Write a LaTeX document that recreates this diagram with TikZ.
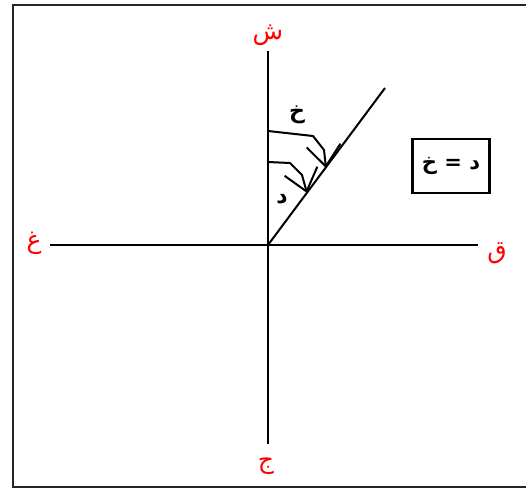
\documentclass[tikz,border=0pt]{standalone}
\usepackage{fontspec}
\newfontfamily\arabicfont[Script=Arabic]{DejaVu Sans}
\TeXXeTstate=1
\usetikzlibrary{arrows.meta}
\begin{document}
\begin{tikzpicture}[x=1pt, y=-1pt, line width=2pt,
  axislbl/.style={text=red, font=\arabicfont\fontsize{25}{28}\selectfont, inner sep=0pt},
  anglbl/.style={font=\arabicfont\bfseries\fontsize{22}{25}\selectfont, inner sep=0pt},
  barb/.style={-{Straight Barb[length=21pt, width=34pt]}}]
\useasboundingbox (0,0) rectangle (526,489);
% frame, open on the right side
\draw[line width=2.2pt, black!85] (526,5) -- (13,5) -- (13,487) -- (526,487);
% axes
\coordinate (o) at (268,245);
\coordinate (n) at (268,51);
\coordinate (s) at (268,444);
\coordinate (w) at (50,245);
\coordinate (e) at (478,245);
\coordinate (r) at (385,88);
\draw (n) -- (s);
\draw (w) -- (e);
\draw (o) -- (r);
\node[axislbl] (lbln) at (268,35)  {\beginR ش\endR};
\node[axislbl] (lbls) at (266,466) {\beginR ج\endR};
\node[axislbl] (lblw) at (34,243)  {\beginR غ\endR};
\node[axislbl] (lble) at (497,253) {\beginR ق\endR};
% angles
\coordinate (k1) at (268,131);
\coordinate (k2) at (268,162);
\coordinate (t1) at (326,168);
\coordinate (t2) at (307,193);
\draw[barb] (k1) -- (313,136) -- (324,150) -- (t1);
\draw[barb] (k2) -- (290,163) -- (302,175) -- (t2);
\node[anglbl] (lblkh) at (297,115) {\beginR خ\endR};
\node[anglbl] (lbld)  at (282,199) {\beginR د\endR};
% equality box
\node[draw, line width=2.2pt, minimum width=77pt, minimum height=54pt,
  font=\arabicfont\bfseries\fontsize{21}{24}\selectfont] (eq) at (451,166) {\beginR د = خ\endR};
\end{tikzpicture}
\end{document}
